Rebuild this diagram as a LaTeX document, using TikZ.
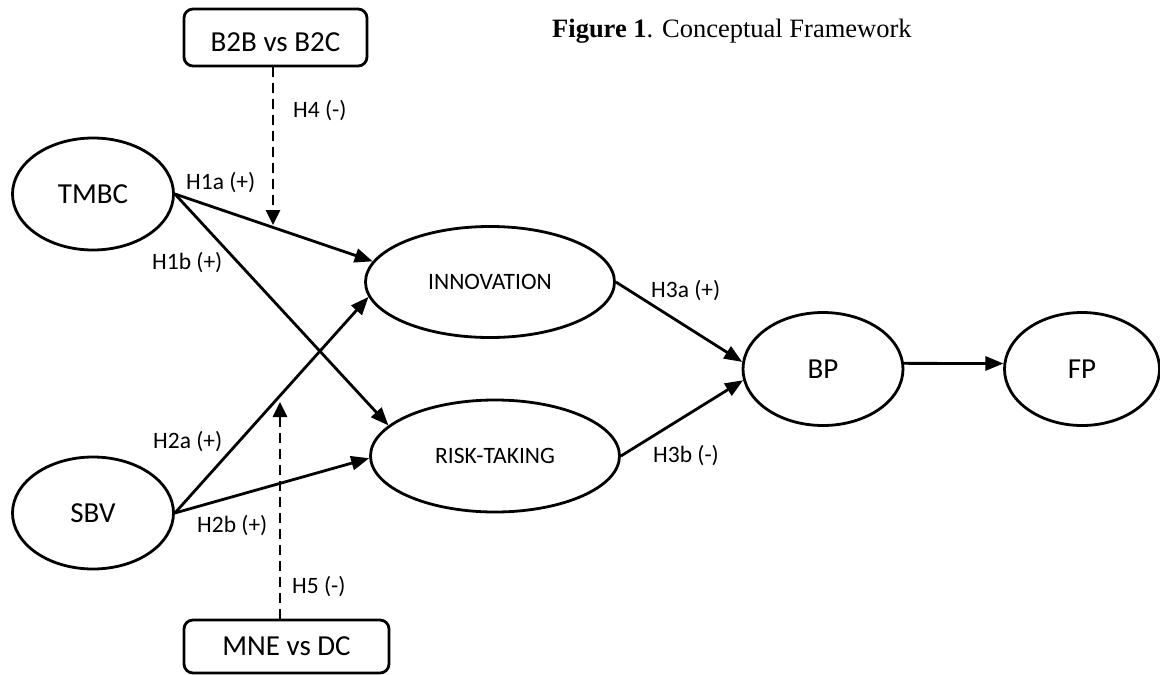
\documentclass[tikz,border=0pt]{standalone}
\usepackage{fontspec}
\setmainfont{Carlito}
\newfontfamily\timesf{Liberation Serif}
\usetikzlibrary{shapes.geometric,arrows.meta,calc}
\begin{document}
\begin{tikzpicture}[x=1pt,y=-1pt,
  lw/.style={line width=2.8pt},
  construct/.style={ellipse,draw,lw,inner sep=0pt,font=\fontsize{29}{32}\selectfont},
  wideconstruct/.style={construct,font=\fontsize{23.5}{26}\selectfont},
  modbox/.style={rectangle,draw,lw,rounded corners=9pt,inner sep=0pt,font=\fontsize{29}{32}\selectfont},
  hlabel/.style={anchor=base west,inner sep=0pt,font=\fontsize{23.5}{26}\selectfont},
  linkarrow/.style={lw,-{Triangle[length=18pt,width=14pt]}},
  modarrow/.style={lw,dash pattern=on 10pt off 6pt,-{Triangle[length=15pt,width=14pt]}}
]
\useasboundingbox (0,0) rectangle (1160,675);

% title
\node[anchor=base west,inner sep=0pt,font=\timesf\fontsize{26.5}{30}\selectfont] (title) at (552,37) {\textbf{Figure 1}. Conceptual Framework};

% constructs
\node[construct,minimum width=161pt,minimum height=112pt] (tmbc) at (93,194) {TMBC};
\node[construct,minimum width=161pt,minimum height=112pt] (sbv) at (93,513) {SBV};
\node[wideconstruct,minimum width=249pt,minimum height=111pt] (innov) at (490,282) {INNOVATION};
\node[wideconstruct,minimum width=249pt,minimum height=112pt] (risk) at (495,456) {RISK-TAKING};
\node[construct,minimum width=160pt,minimum height=113pt] (bp) at (823,369) {BP};
\node[construct,minimum width=155pt,minimum height=113pt] (fp) at (1082,369) {FP};

% moderators
\node[modbox,minimum width=183pt,minimum height=57pt,text height=27pt,text depth=0pt] (b2b) at (275.5,37.5) {B2B vs B2C};
\node[modbox,minimum width=205pt,minimum height=53pt] (mne) at (286.5,646.5) {MNE vs DC};

% paths
\draw[linkarrow] (tmbc.east) -- (innov.170);
\draw[linkarrow] (tmbc.east) -- (risk.164);
\draw[linkarrow] (sbv.east) -- (innov.187);
\draw[linkarrow] (sbv.east) -- (risk.181);
\draw[linkarrow] (innov.east) -- (bp.175);
\draw[linkarrow] (risk.east) -- (bp.188);
\draw[linkarrow] (bp.4) -- (fp.176);

% moderating effects
\coordinate (h4tip) at (273,225);
\coordinate (h5tip) at (280,402);
\draw[modarrow] (b2b.south -| h4tip) -- (h4tip);
\draw[modarrow] (mne.north -| h5tip) -- (h5tip);

% labels
\node[hlabel] (l4) at (293,117) {H4 (-)};
\node[hlabel] (l1a) at (186,189) {H1a (+)};
\node[hlabel] (l1b) at (152,269) {H1b (+)};
\node[hlabel] (l2a) at (153,448) {H2a (+)};
\node[hlabel] (l2b) at (197,532) {H2b (+)};
\node[hlabel] (l5) at (292,593) {H5 (-)};
\node[hlabel] (l3a) at (651,297) {H3a (+)};
\node[hlabel] (l3b) at (653,462) {H3b (-)};
\end{tikzpicture}
\end{document}
